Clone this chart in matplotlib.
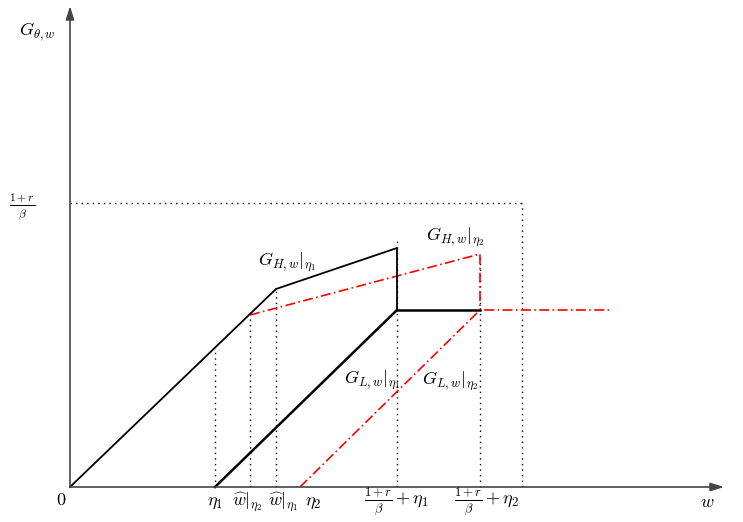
import matplotlib.pyplot as plt

plt.rcParams['mathtext.fontset'] = 'cm'

# key abscissas (same units as the picture, origin at the axes corner)
eta1 = 145
eta2 = 230
w_hat2 = 180
w_hat1 = 206
w_top1 = 327   # (1+r)/beta + eta1
w_top2 = 410   # (1+r)/beta + eta2
w_cap = 452
cap = 284      # (1+r)/beta level
flat = 177     # plateau of G_L

# G_H and G_L curves
gh1_x = [0, w_hat1, w_top1, w_top1]
gh1_y = [0, 198, 239, flat]
gh2_x = [w_hat2, w_top2, w_top2]
gh2_y = [172, 233, flat]
gl1_x = [eta1, w_top1, w_top2]
gl1_y = [0, flat, flat]
gl2_x = [eta2, w_top2, 540]
gl2_y = [0, flat, flat]

# dotted guides: x position, top
guide_x = [eta1, w_hat2, w_hat1, w_top1, w_top2, w_cap]
guide_top = [139, 172, 198, 247, 233, cap]

tick_pos = [eta1, w_hat2 - 3, w_hat1 + 7, eta2 + 13, w_top1, w_top2 + 7]
tick_lab = [r'$\eta_1$', r'$\widehat{w}|_{\eta_2}$', r'$\widehat{w}|_{\eta_1}$', r'$\eta_2$',
            r'$\frac{1+r}{\beta}+\eta_1$', r'$\frac{1+r}{\beta}+\eta_2$']

fig = plt.figure(figsize=(7.43, 5.22), dpi=100)
ax = fig.add_axes([0, 0, 1, 1])
ax.set_xlim(-70, 673)
ax.set_ylim(-35, 487)
ax.axis('off')

# axes with arrows
ax.annotate('', xy=(654, 0), xytext=(0, 0),
            arrowprops=dict(arrowstyle='-|>,head_length=0.8,head_width=0.25', color='#444', lw=1.2,
                            shrinkA=0, shrinkB=0))
ax.annotate('', xy=(0, 481), xytext=(0, 0),
            arrowprops=dict(arrowstyle='-|>,head_length=0.8,head_width=0.25', color='#444', lw=1.2,
                            shrinkA=0, shrinkB=0))

dot = dict(color='black', lw=1.0, linestyle=(0, (1, 3)))
ax.plot([0, w_cap], [cap, cap], **dot)
for gx, gt in zip(guide_x, guide_top):
    ax.plot([gx, gx], [0, gt], **dot)

red = dict(color='red', lw=1.2, linestyle=(0, (6, 2, 1, 2)))
ax.plot(gl2_x, gl2_y, **red)
ax.plot(gh2_x, gh2_y, **red)
ax.plot(gh1_x, gh1_y, color='black', lw=1.3)
ax.plot(gl1_x[:2], gl1_y[:2], color='black', lw=1.8)
ax.plot(gl1_x[1:], gl1_y[1:], color='black', lw=1.8)

fs = 13
ax.text(-33, 455, r'$G_{\theta,w}$', fontsize=fs, ha='center', va='center')
ax.text(-48, 280, r'$\frac{1+r}{\beta}$', fontsize=12, ha='center', va='center')
ax.text(-9, -13, r'$0$', fontsize=fs, ha='center', va='center')
ax.text(637, -15, r'$w$', fontsize=fs, ha='center', va='center')
for p, lab in zip(tick_pos, tick_lab):
    ax.text(p, -15, lab, fontsize=fs, ha='center', va='center')

ax.text(217, 225, r'$G_{H,w}|_{\eta_1}$', fontsize=fs, ha='center', va='center')
ax.text(385, 250, r'$G_{H,w}|_{\eta_2}$', fontsize=fs, ha='center', va='center')
ax.text(302, 107, r'$G_{L,w}|_{\eta_1}$', fontsize=fs, ha='center', va='center')
ax.text(380, 106, r'$G_{L,w}|_{\eta_2}$', fontsize=fs, ha='center', va='center')

plt.savefig('out.png', dpi=100)
